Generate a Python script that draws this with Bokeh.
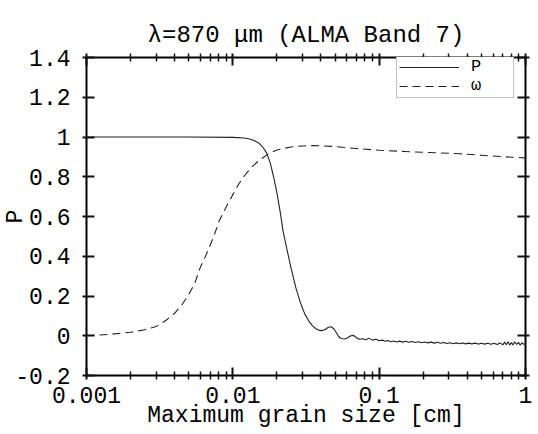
from bokeh.plotting import figure
from bokeh.models import (LogAxis, LinearAxis, FixedTicker, Legend, LegendItem,
                          Range1d)
from bokeh.embed import file_html
from bokeh.resources import INLINE

# ---------------- data ----------------
title_text = "\u03bb=870 \u03bcm (ALMA Band 7)"
x_label_text = "Maximum grain size [cm]"
y_label_text = "P"

x_ticks = [0.001, 0.01, 0.1, 1.0]
x_tick_labels = ["0.001", "0.01", "0.1", "1"]
y_ticks = [-0.2, 0.0, 0.2, 0.4, 0.6, 0.8, 1.0, 1.2, 1.4]
y_tick_labels = ["-0.2", "0", "0.2", "0.4", "0.6", "0.8", "1", "1.2", "1.4"]

p_x = [0.001, 0.005, 0.01, 0.012, 0.013, 0.014, 0.015, 0.016, 0.017, 0.018,
       0.019, 0.020, 0.021, 0.022, 0.0235, 0.025, 0.027, 0.029, 0.031, 0.033,
       0.035, 0.037, 0.039, 0.041, 0.043, 0.045, 0.047, 0.049, 0.051, 0.053,
       0.055, 0.058, 0.061, 0.064, 0.067, 0.070, 0.073, 0.077, 0.081, 0.085,
       0.090, 0.095, 0.100, 0.105, 0.110, 0.115, 0.120, 0.126, 0.132, 0.138,
       0.145, 0.152, 0.160, 0.168, 0.176, 0.185, 0.195, 0.205, 0.215, 0.226,
       0.238, 0.250, 0.263, 0.276, 0.290, 0.305, 0.320, 0.336, 0.353, 0.371,
       0.390, 0.410, 0.430, 0.452, 0.475, 0.500, 0.525, 0.552, 0.580, 0.610,
       0.640, 0.670, 0.700, 0.720, 0.740, 0.760, 0.780, 0.800, 0.820, 0.845,
       0.870, 0.895, 0.920, 0.945, 0.970, 1.000]
p_y = [1.000, 1.000, 0.998, 0.995, 0.990, 0.982, 0.970, 0.950, 0.920, 0.870,
       0.800, 0.720, 0.630, 0.530, 0.430, 0.340, 0.240, 0.165, 0.110, 0.075,
       0.050, 0.035, 0.027, 0.026, 0.033, 0.043, 0.045, 0.035, 0.015, -0.005,
       -0.014, -0.016, -0.010, 0.000, 0.002, -0.010, -0.018, -0.015, -0.020, -0.012,
       -0.022, -0.018, -0.025, -0.022, -0.028, -0.024, -0.030, -0.026, -0.031, -0.027,
       -0.032, -0.028, -0.033, -0.029, -0.034, -0.030, -0.035, -0.031, -0.036, -0.032,
       -0.037, -0.033, -0.038, -0.034, -0.039, -0.035, -0.040, -0.036, -0.040, -0.036,
       -0.041, -0.037, -0.041, -0.037, -0.042, -0.038, -0.042, -0.038, -0.043, -0.038,
       -0.044, -0.036, -0.046, -0.032, -0.045, -0.030, -0.047, -0.034, -0.046, -0.031,
       -0.044, -0.033, -0.048, -0.035, -0.043, -0.038]

w_x = [0.001, 0.0015, 0.002, 0.0025, 0.003, 0.0035, 0.004, 0.0045, 0.005, 0.0055,
       0.006, 0.0065, 0.007, 0.0075, 0.008, 0.009, 0.010, 0.011, 0.012, 0.0135,
       0.015, 0.0175, 0.020, 0.025, 0.030, 0.035, 0.040, 0.050, 0.070, 0.100,
       0.150, 0.200, 0.350, 0.500, 0.700, 1.000]
w_y = [0.000, 0.008, 0.018, 0.030, 0.047, 0.078, 0.113, 0.157, 0.207, 0.265,
       0.345, 0.400, 0.455, 0.510, 0.572, 0.648, 0.710, 0.765, 0.805, 0.850,
       0.880, 0.915, 0.935, 0.950, 0.955, 0.957, 0.956, 0.952, 0.942, 0.933,
       0.927, 0.923, 0.916, 0.908, 0.901, 0.895]

# ---------------- styling ----------------
FONT = "Liberation Mono"
INK = "#222222"
TICK = "#111111"

p = figure(width=538, height=434, x_axis_type="log",
           x_range=Range1d(0.001, 1.0), y_range=Range1d(-0.2, 1.4),
           output_backend="svg", toolbar_location=None,
           min_border_left=83, min_border_right=13,
           min_border_top=57, min_border_bottom=59)
p.background_fill_color = None
p.border_fill_color = "white"
p.outline_line_color = "black"
p.outline_line_width = 2
p.grid.visible = False

p.title.text = title_text
p.title.align = "center"
p.title.text_font = FONT
p.title.text_font_size = "24px"
p.title.text_font_style = "normal"
p.title.text_color = "black"

x_minor = [m * 10.0 ** e for e in range(-3, 0) for m in range(2, 10)]


def style_axis(ax, ticks, labels, show_labels, minor):
    ax.axis_line_color = None
    ax.major_tick_in = 8
    ax.major_tick_out = 4
    ax.major_tick_line_color = TICK
    ax.major_tick_line_width = 2
    if minor:
        ax.minor_tick_in = 4
        ax.minor_tick_out = 4
        ax.minor_tick_line_color = TICK
        ax.minor_tick_line_width = 1.5
    else:
        ax.minor_tick_line_color = None
    ax.major_label_text_font = FONT
    ax.major_label_text_color = "black"
    ax.major_label_text_font_size = "23px"
    if show_labels:
        ax.major_label_overrides = dict(zip(ticks, labels))
    else:
        ax.major_label_overrides = {t: "" for t in ticks}
        ax.major_label_standoff = 0


bx = p.xaxis[0]
bx.ticker = FixedTicker(ticks=x_ticks, minor_ticks=x_minor)
style_axis(bx, x_ticks, x_tick_labels, True, True)
bx.major_label_standoff = 7
bx.axis_label = x_label_text
bx.axis_label_text_font = FONT
bx.axis_label_text_font_size = "23px"
bx.axis_label_text_font_style = "normal"
bx.axis_label_text_color = "black"
bx.axis_label_standoff = -3

ly = p.yaxis[0]
ly.ticker = FixedTicker(ticks=y_ticks)
style_axis(ly, y_ticks, y_tick_labels, True, False)
ly.major_label_standoff = 12
ly.axis_label = y_label_text
ly.axis_label_text_font = FONT
ly.axis_label_text_font_size = "23px"
ly.axis_label_text_font_style = "normal"
ly.axis_label_text_color = "black"
ly.axis_label_standoff = -17

top = LogAxis(ticker=FixedTicker(ticks=x_ticks, minor_ticks=x_minor))
style_axis(top, x_ticks, x_tick_labels, False, True)
p.add_layout(top, "above")

right = LinearAxis(ticker=FixedTicker(ticks=y_ticks))
style_axis(right, y_ticks, y_tick_labels, False, False)
p.add_layout(right, "right")

r_p = p.line(p_x, p_y, line_color=INK, line_width=1.1)
r_w = p.line(w_x, w_y, line_color=INK, line_width=1.1, line_dash="8 5")

legend = Legend(items=[LegendItem(label="P", renderers=[r_p]),
                       LegendItem(label="\u03c9", renderers=[r_w])],
                location=(310, 277), label_text_font=FONT,
                label_text_font_size="17px", label_text_color="black",
                glyph_width=60, glyph_height=18, label_height=18,
                label_width=40, label_standoff=12, padding=2, spacing=0,
                margin=0, border_line_color="#888888", border_line_width=1,
                background_fill_color="white", background_fill_alpha=1)
p.add_layout(legend)

open("out.html", "w").write(file_html(p, INLINE))
